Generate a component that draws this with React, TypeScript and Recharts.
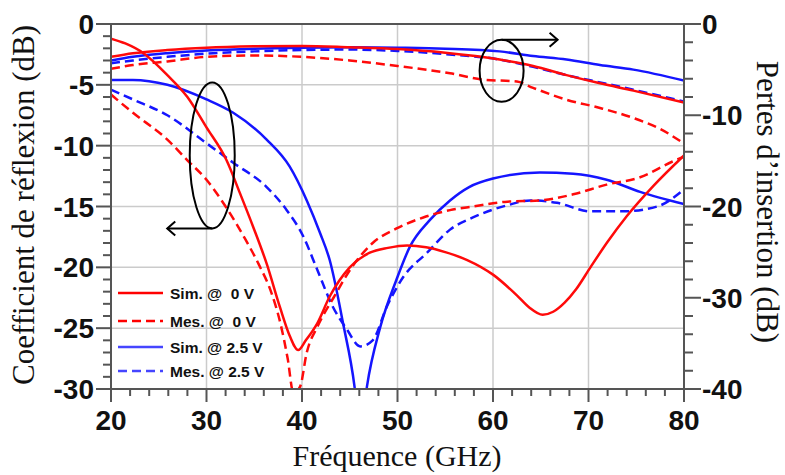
import React from "react";
import {
  LineChart,
  Line,
  XAxis,
  YAxis,
  CartesianGrid,
  ReferenceLine,
  ReferenceDot,
} from "recharts";

// S11 (left axis)
const s11Sim0VFreq = [20, 21.5, 23.4, 25.9, 28, 30, 32.1, 33.5, 34.9, 36.3, 37.7, 38.7, 39.6, 40.4, 41.6, 42.9, 45, 47.1, 49, 51, 53, 55, 57.3, 60, 62.5, 63.8, 65.2, 66.3, 67.5, 68.7, 70.2, 72, 74, 76.8, 80];
const s11Sim0V = [-1.2, -1.6, -2.4, -4.2, -6.0, -8.5, -11.2, -13.9, -16.7, -19.7, -23.3, -25.6, -26.8, -26.0, -24.6, -22.4, -20.0, -18.8, -18.4, -18.2, -18.35, -18.75, -19.4, -20.6, -22.3, -23.3, -23.9, -23.65, -22.9, -21.8, -20.0, -17.9, -15.8, -13.3, -10.8];

const s11Mes0VFreq = [20, 22.3, 25.9, 28, 30, 32, 34, 35.5, 36.8, 37.8, 38.5, 39.1, 39.8, 40.5, 41.6, 43.3, 45.3, 47.4, 49.9, 52.7, 55.5, 57.9, 61.5, 64.9, 68.4, 71.9, 75.4, 78.8, 80];
const s11Mes0V = [-5.8, -7.3, -9.5, -11.2, -12.8, -15.0, -17.6, -19.8, -22.1, -24.8, -27.5, -30.3, -29.8, -27.0, -24.9, -22.5, -19.9, -18.0, -16.8, -15.9, -15.3, -15.0, -14.6, -14.5, -14.0, -13.2, -12.6, -11.3, -10.9];

const s11Sim25VFreq = [20, 22.3, 25.9, 30, 32.8, 36.3, 38.7, 40.5, 41.9, 42.9, 44.3, 45.5, 46.1, 46.8, 48.2, 49.9, 51.3, 53.4, 55.5, 57.5, 60, 64.9, 68.4, 71.9, 75.4, 80];
const s11Sim25V = [-4.6, -4.6, -5.0, -6.2, -7.3, -9.5, -11.7, -14.5, -17.2, -19.4, -24.6, -29.8, -34, -29.8, -24.9, -21.0, -18.3, -16.1, -14.5, -13.4, -12.7, -12.2, -12.3, -12.8, -13.8, -14.8];

const s11Mes25VFreq = [20, 22.3, 25.9, 30, 32.8, 36.3, 38.4, 40.1, 41.6, 43.2, 44.7, 46.1, 47.4, 48.9, 50.6, 53.1, 55.5, 57.9, 61.5, 63.9, 66.7, 70.2, 73.6, 77.2, 80];
const s11Mes25V = [-5.4, -6.2, -7.5, -9.8, -11.4, -13.4, -15.3, -17.4, -20.2, -23.2, -25.1, -26.5, -26.0, -23.2, -20.8, -18.8, -16.9, -15.9, -14.9, -14.5, -14.7, -15.4, -15.4, -15.0, -13.6];

// S21 (right axis)
const s21Freq = [20, 22.3, 25.9, 30, 35, 40, 45, 50, 55, 60.7, 64.2, 67.7, 71.2, 74.7, 80];
const s21Sim0V = [-3.6, -3.2, -2.85, -2.6, -2.45, -2.4, -2.55, -2.75, -3.15, -3.9, -4.6, -5.6, -6.5, -7.3, -8.6];
const s21Sim25V = [-4.0, -3.6, -3.2, -2.9, -2.7, -2.6, -2.55, -2.6, -2.7, -3.0, -3.5, -3.9, -4.5, -5.0, -6.2];
const s21Mes25V = [-4.3, -4.0, -3.6, -3.25, -3.0, -2.85, -2.8, -2.95, -3.3, -3.9, -4.7, -5.6, -6.4, -7.2, -8.5];

const s21Mes0VFreq = [20, 22.3, 25.9, 30, 35, 40, 45, 50, 55.5, 59, 62.5, 64.2, 67.7, 71.2, 74.7, 77.5, 80];
const s21Mes0V = [-4.9, -4.5, -4.1, -3.6, -3.45, -3.6, -4.0, -4.6, -5.4, -6.1, -6.3, -7.0, -8.3, -9.2, -10.3, -11.5, -13.1];

const xTicks = Array.from({ length: 31 }, (_, i) => 20 + i * 2);
const leftTicks = Array.from({ length: 31 }, (_, i) => -i);
const rightTicks = Array.from({ length: 21 }, (_, i) => -i * 2);

const legendItems = [
  { label: "Sim. @  0 V", color: "#ff0000", dash: "" },
  { label: "Mes. @  0 V", color: "#ff0000", dash: "9 5" },
  { label: "Sim. @ 2.5 V", color: "#4545ff", dash: "" },
  { label: "Mes. @ 2.5 V", color: "#4545ff", dash: "9 5" },
];

const RED = "#ff0a0a";
const BLUE = "#1515ff";
const AXIS = "#555";
const TICK_FONT = "'Liberation Sans', Arial, sans-serif";
const TITLE_FONT = "'Liberation Serif', 'Times New Roman', serif";

const mk = (f: number[], v: number[]) => f.map((x, i) => ({ f: x, v: v[i] }));

const BottomTick = ({ x, y, payload }: any) => {
  const major = payload.value % 10 === 0;
  return (
    <g>
      <line x1={x} x2={x} y1={y} y2={y + (major ? 13 : 7)} stroke={AXIS} strokeWidth={2} />
      {major && (
        <text x={x} y={y + 41} textAnchor="middle" fontFamily={TICK_FONT} fontWeight="bold" fontSize={28} fill="#111">
          {payload.value}
        </text>
      )}
    </g>
  );
};

const LeftTick = ({ x, y, payload }: any) => {
  const major = payload.value % 5 === 0;
  return (
    <g>
      <line x1={x} x2={x - (major ? 15 : 8)} y1={y} y2={y} stroke={AXIS} strokeWidth={2} />
      {major && (
        <text x={x - 17} y={y + 10} textAnchor="end" fontFamily={TICK_FONT} fontWeight="bold" fontSize={28} fill="#111">
          {payload.value}
        </text>
      )}
    </g>
  );
};

const RightTick = ({ x, y, payload }: any) => {
  const major = payload.value % 10 === 0;
  return (
    <g>
      <line x1={x} x2={x + (major ? 17 : 9)} y1={y} y2={y} stroke={AXIS} strokeWidth={2} />
      {major && (
        <text x={x + 18} y={y + 10} textAnchor="start" fontFamily={TICK_FONT} fontWeight="bold" fontSize={28} fill="#111">
          {payload.value}
        </text>
      )}
    </g>
  );
};

// ellipse + arrow pointing to the left axis
const LeftMarker = ({ cx, cy }: any) => (
  <g fill="none" stroke="#000" strokeWidth={2}>
    <ellipse cx={cx} cy={cy} rx={22.5} ry={73} />
    <line x1={cx} y1={cy + 73} x2={cx - 45} y2={cy + 73} />
    <polyline points={`${cx - 37},${cy + 66} ${cx - 45},${cy + 73} ${cx - 37},${cy + 80}`} />
  </g>
);

// ellipse + arrow pointing to the right axis
const RightMarker = ({ cx, cy }: any) => (
  <g fill="none" stroke="#000" strokeWidth={2}>
    <ellipse cx={cx} cy={cy} rx={22} ry={31} />
    <line x1={cx} y1={cy - 31} x2={cx + 56} y2={cy - 31} />
    <polyline points={`${cx + 48},${cy - 38} ${cx + 56},${cy - 31} ${cx + 48},${cy - 24}`} />
  </g>
);

export default function App() {
  return (
    <div style={{ position: "fixed", left: 0, top: 0, width: 785, height: 475, background: "#fff" }}>
      <LineChart width={785} height={475} margin={{ top: 24, right: 0, bottom: 0, left: 0 }}>
        <CartesianGrid
          yAxisId="left"
          stroke="#cbcbcb"
          strokeWidth={1.5}
          verticalValues={[30, 40, 50, 60, 70]}
          horizontalValues={[-5, -10, -15, -20, -25]}
        />
        <XAxis
          type="number"
          dataKey="f"
          domain={[20, 80]}
          ticks={xTicks}
          interval={0}
          height={86}
          tickSize={0}
          tickMargin={0}
          tickLine={false}
          tick={<BottomTick />}
          axisLine={{ stroke: AXIS, strokeWidth: 2 }}
          allowDataOverflow
        />
        <YAxis
          yAxisId="left"
          type="number"
          domain={[-30, 0]}
          ticks={leftTicks}
          interval={0}
          width={111}
          tickSize={0}
          tickMargin={0}
          tickLine={false}
          tick={<LeftTick />}
          axisLine={{ stroke: AXIS, strokeWidth: 2 }}
          allowDataOverflow
        />
        <YAxis
          yAxisId="right"
          orientation="right"
          type="number"
          domain={[-40, 0]}
          ticks={rightTicks}
          interval={0}
          width={101}
          tickSize={0}
          tickMargin={0}
          tickLine={false}
          tick={<RightTick />}
          axisLine={{ stroke: AXIS, strokeWidth: 2 }}
          allowDataOverflow
        />
        <ReferenceLine yAxisId="left" y={0} stroke={AXIS} strokeWidth={2} />

        <Line yAxisId="right" data={mk(s21Freq, s21Sim25V)} dataKey="v" type="monotone" stroke={BLUE} strokeWidth={2.5} dot={false} isAnimationActive={false} />
        <Line yAxisId="right" data={mk(s21Freq, s21Mes25V)} dataKey="v" type="monotone" stroke={BLUE} strokeWidth={2.5} strokeDasharray="9 5" dot={false} isAnimationActive={false} />
        <Line yAxisId="right" data={mk(s21Freq, s21Sim0V)} dataKey="v" type="monotone" stroke={RED} strokeWidth={2.5} dot={false} isAnimationActive={false} />
        <Line yAxisId="right" data={mk(s21Mes0VFreq, s21Mes0V)} dataKey="v" type="monotone" stroke={RED} strokeWidth={2.5} strokeDasharray="9 5" dot={false} isAnimationActive={false} />

        <Line yAxisId="left" data={mk(s11Sim25VFreq, s11Sim25V)} dataKey="v" type="monotone" stroke={BLUE} strokeWidth={2.5} dot={false} isAnimationActive={false} />
        <Line yAxisId="left" data={mk(s11Mes25VFreq, s11Mes25V)} dataKey="v" type="monotone" stroke={BLUE} strokeWidth={2.5} strokeDasharray="9 5" dot={false} isAnimationActive={false} />
        <Line yAxisId="left" data={mk(s11Sim0VFreq, s11Sim0V)} dataKey="v" type="monotone" stroke={RED} strokeWidth={2.5} dot={false} isAnimationActive={false} />
        <Line yAxisId="left" data={mk(s11Mes0VFreq, s11Mes0V)} dataKey="v" type="monotone" stroke={RED} strokeWidth={2.5} strokeDasharray="9 5" dot={false} isAnimationActive={false} />

        <ReferenceDot yAxisId="left" x={30.6} y={-10.8} r={1} shape={<LeftMarker />} />
        <ReferenceDot yAxisId="left" x={60.9} y={-3.85} r={1} shape={<RightMarker />} />
      </LineChart>

      <svg width={785} height={475} style={{ position: "absolute", left: 0, top: 0, pointerEvents: "none" }}>
        <text
          x={34}
          y={205}
          transform="rotate(-90 34 205)"
          textAnchor="middle"
          fontFamily={TITLE_FONT}
          fontSize={31}
          fill="#111"
        >
          Coefficient de réflexion (dB)
        </text>
        <text
          x={757}
          y={202}
          transform="rotate(90 757 202)"
          textAnchor="middle"
          fontFamily={TITLE_FONT}
          fontSize={31}
          fill="#111"
        >
          Pertes d’insertion (dB)
        </text>
        <text x={397} y={466} textAnchor="middle" fontFamily={TITLE_FONT} fontSize={30} fill="#111">
          Fréquence (GHz)
        </text>
        {legendItems.map((item, i) => {
          const y = [293, 321, 347, 371][i];
          return (
            <g key={item.label}>
              <line x1={118} x2={163} y1={y} y2={y} stroke={item.color} strokeWidth={2.7} strokeDasharray={item.dash || undefined} />
              <text
                x={170}
                y={y + 5.5}
                fontFamily={TICK_FONT}
                fontWeight="bold"
                fontSize={15.5}
                fill="#111"
                style={{ whiteSpace: "pre" }}
              >
                {item.label}
              </text>
            </g>
          );
        })}
      </svg>
    </div>
  );
}
